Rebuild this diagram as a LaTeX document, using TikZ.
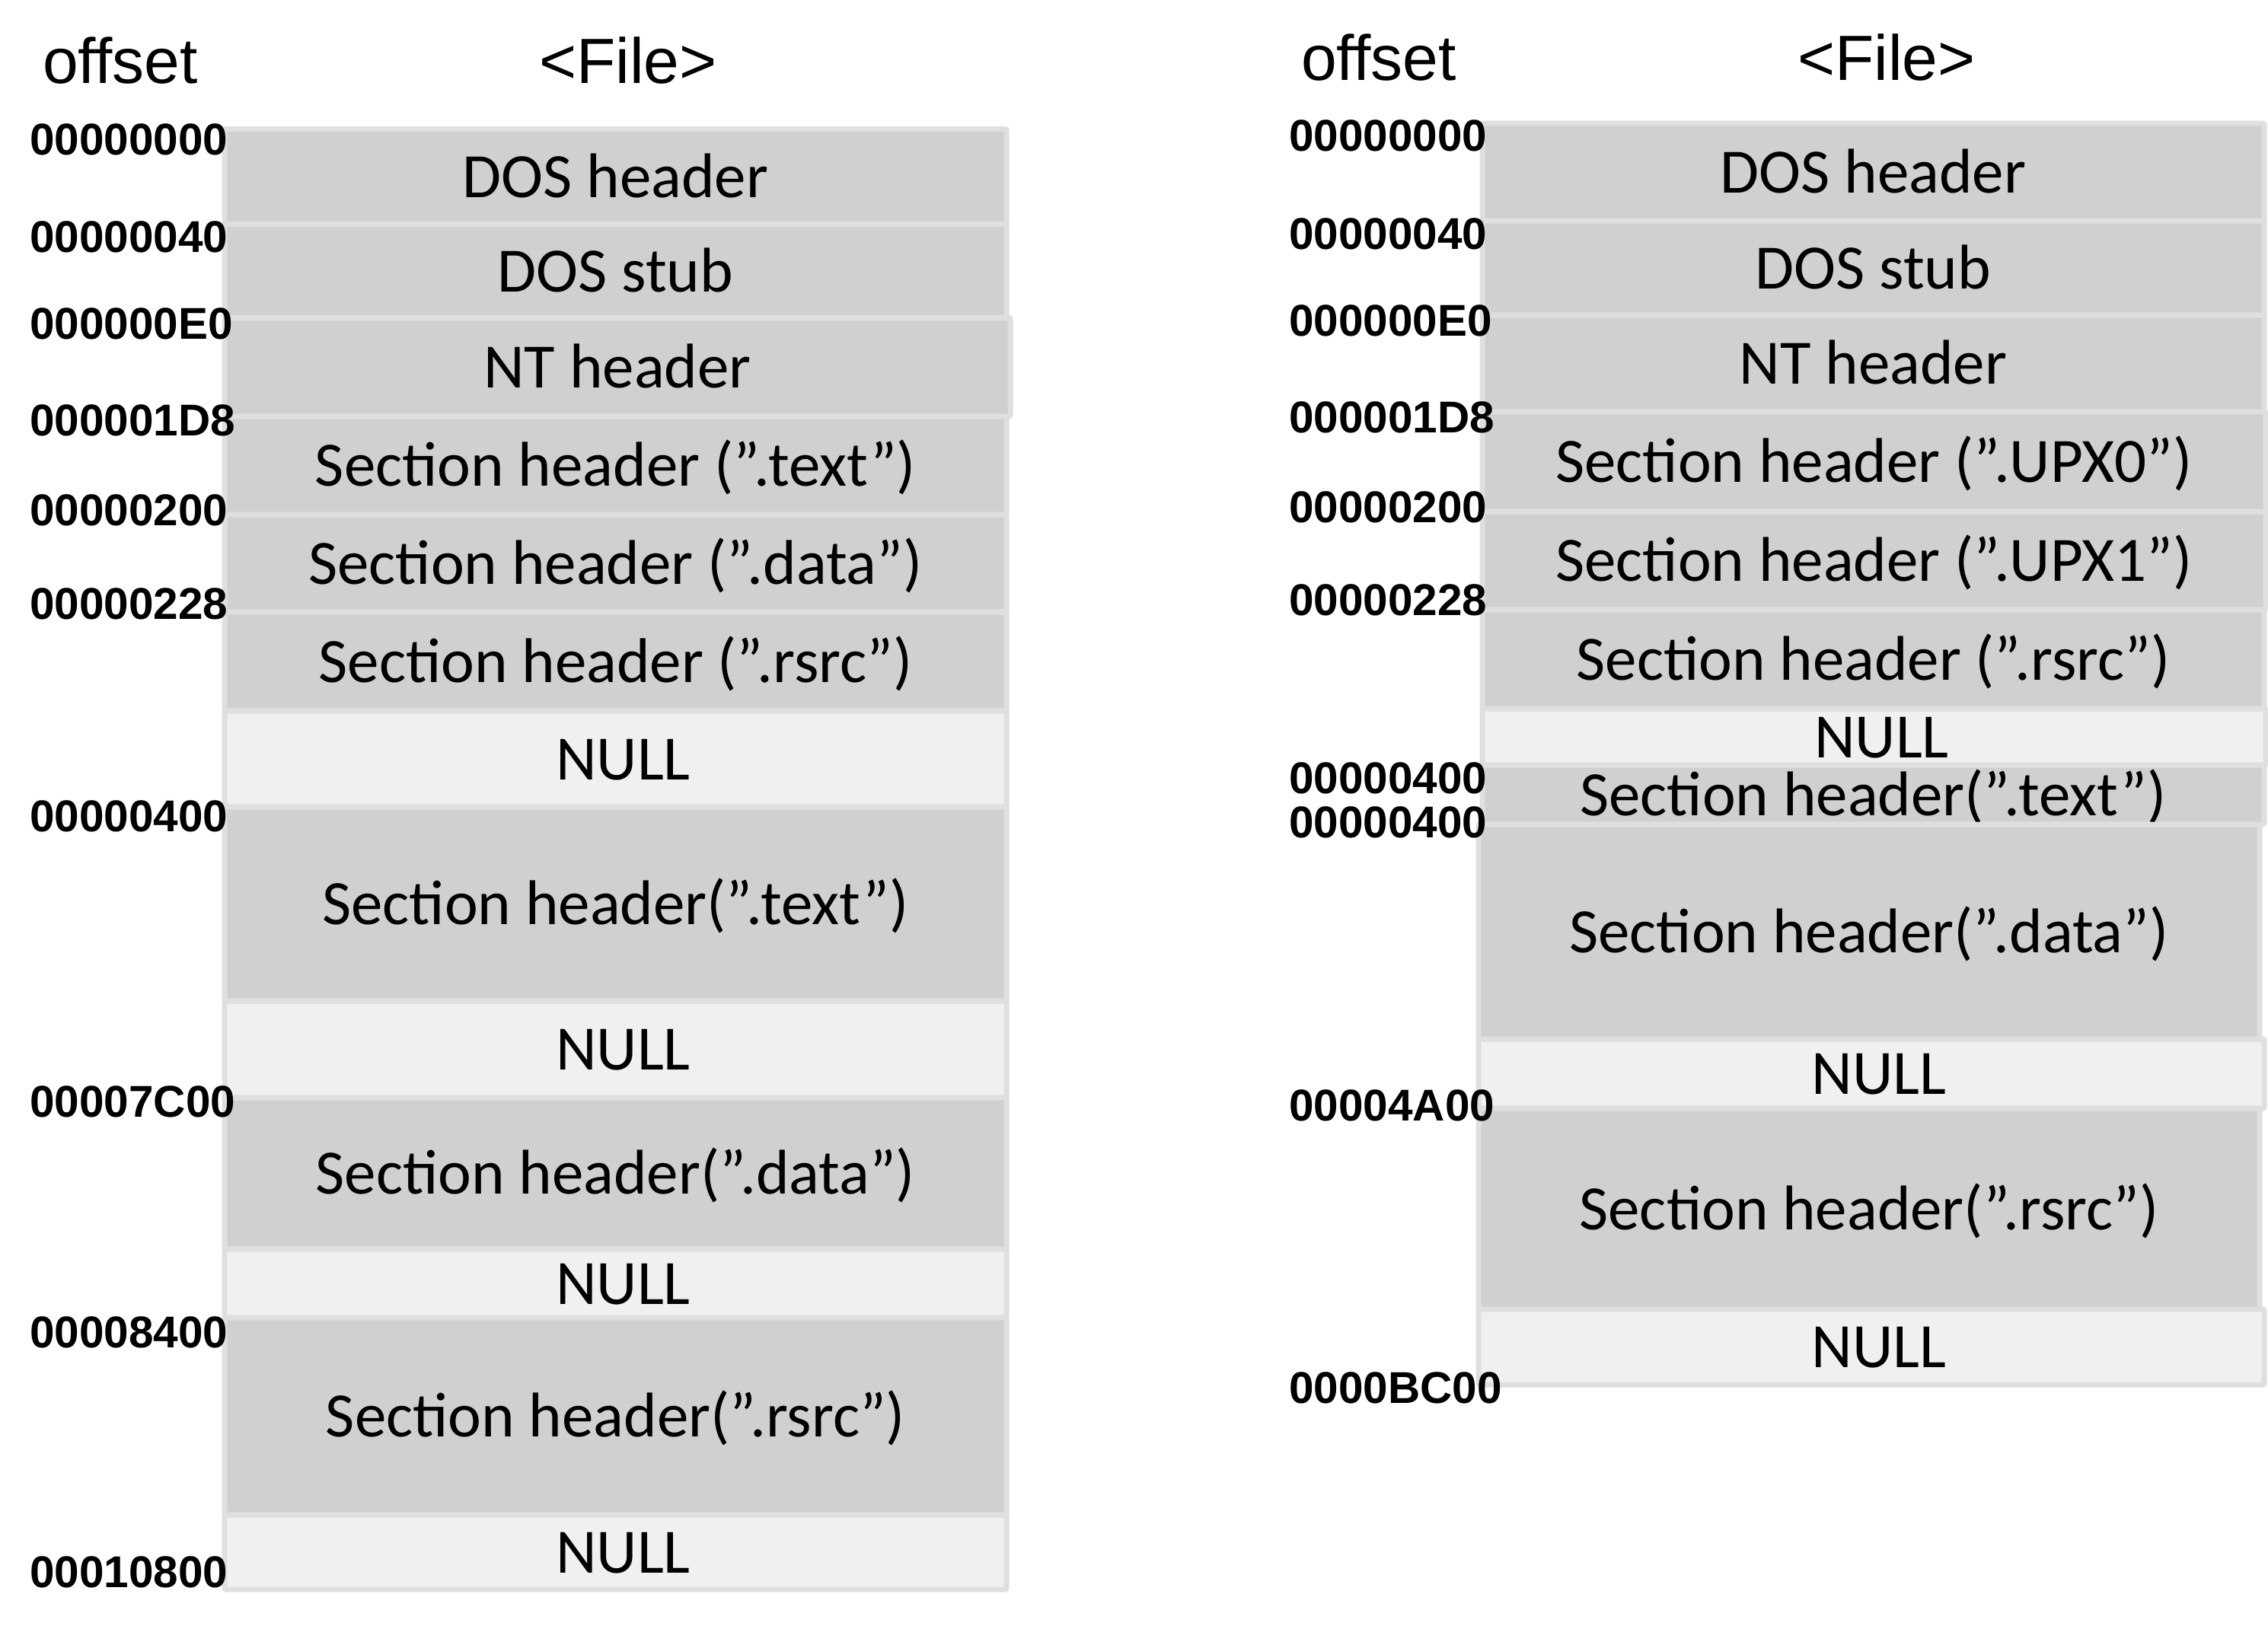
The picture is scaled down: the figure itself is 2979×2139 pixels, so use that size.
\documentclass[tikz,border=0pt]{standalone}
\usepackage{fontspec}
\setmainfont{Carlito}
\newfontfamily\arialf{Liberation Sans}
\definecolor{darkfill}{HTML}{D0D0D0}
\definecolor{lightfill}{HTML}{F0F0F0}
\definecolor{edgegray}{HTML}{DFDFDF}
\tikzset{
  darkrow/.style={fill=darkfill, draw=edgegray, line width=7pt, rounded corners=2pt},
  lightrow/.style={fill=lightfill, draw=edgegray, line width=7pt, rounded corners=2pt},
  rowtext/.style={anchor=base, inner sep=0pt, font=\fontsize{83}{99}\selectfont},
  darktext/.style={rowtext},
  lighttext/.style={rowtext, xshift=10pt},
  offlabel/.style={anchor=base west, inner sep=0pt, font=\arialf\bfseries\fontsize{58.5}{70}\selectfont},
  headtext/.style={anchor=base, inner sep=0pt, font=\arialf\fontsize{84}{100}\selectfont},
}
% #1 name, #2 x1, #3 x2, #4 y1, #5 y2, #6 dark/light, #7 text
\newcommand\rowbox[7]{%
  \path[#6row] (#2,#4) rectangle (#3,#5);
  \node[#6text] (#1) at ({(#2+#3)/2},{(#4+#5)/2+27}) {#7};
}
\begin{document}
\begin{tikzpicture}[x=1pt,y=-1pt]
\useasboundingbox (0,0) rectangle (2979,2139);
\fill[white] (0,0) rectangle (2979,2139);

% ---------- left file ----------
\node[headtext] (offL) at (158,109) {offset};
\node[headtext] (fileL) at (825,109) {<File>};

\rowbox{L1}{295}{1322}{169.5}{294.5}{dark}{DOS header}
\rowbox{L2}{295}{1322}{294.5}{417.5}{dark}{DOS stub}
\rowbox{L3}{295}{1327}{417.5}{547}{dark}{NT header}
\rowbox{L4}{295}{1322}{547}{676}{dark}{Section header (”.text”)}
\rowbox{L5}{295}{1322}{676}{804}{dark}{Section header (”.data”)}
\rowbox{L6}{295}{1322}{804}{934}{dark}{Section header (”.rsrc”)}
\rowbox{L7}{295}{1322}{934}{1060}{light}{NULL}
\rowbox{L8}{295}{1322}{1060}{1315}{dark}{Section header(”.text”)}
\rowbox{L9}{295}{1322}{1315}{1442}{light}{NULL}
\rowbox{L10}{295}{1322}{1442}{1641}{dark}{Section header(”.data”)}
\rowbox{L11}{295}{1322}{1641}{1731}{light}{NULL}
\rowbox{L12}{295}{1322}{1731}{1990}{dark}{Section header(”.rsrc”)}
\rowbox{L13}{295}{1322}{1990}{2088}{light}{NULL}

\node[offlabel] (oL1) at (39,203) {00000000};
\node[offlabel] (oL2) at (39,331) {00000040};
\node[offlabel] (oL3) at (39,445) {000000E0};
\node[offlabel] (oL4) at (39,572) {000001D8};
\node[offlabel] (oL5) at (39,690) {00000200};
\node[offlabel] (oL6) at (39,813) {00000228};
\node[offlabel] (oL7) at (39,1092) {00000400};
\node[offlabel] (oL8) at (39,1467) {00007C00};
\node[offlabel] (oL9) at (39,1770) {00008400};
\node[offlabel] (oL10) at (39,2085) {00010800};

% ---------- right file ----------
\node[headtext] (offR) at (1811,105) {offset};
\node[headtext] (fileR) at (2478,105) {<File>};

\rowbox{R1}{1947}{2974}{162}{290}{dark}{DOS header}
\rowbox{R2}{1947}{2974}{290}{414}{dark}{DOS stub}
\rowbox{R3}{1947}{2974}{414}{541}{dark}{NT header}
\rowbox{R4}{1947}{2976}{541}{672}{dark}{Section header (”.UPX0”)}
\rowbox{R5}{1947}{2976}{672}{801}{dark}{Section header (”.UPX1”)}
\rowbox{R6}{1947}{2974}{801}{931}{dark}{Section header (”.rsrc”)}
\rowbox{R7}{1947}{2976}{931}{1005}{light}{NULL}
\rowbox{R8}{1947}{2974}{1005}{1083}{dark}{Section header(”.text”)}
\rowbox{R9}{1942}{2968}{1083}{1365}{dark}{Section header(”.data”)}
\rowbox{R10}{1942}{2974}{1365}{1456}{light}{NULL}
\rowbox{R11}{1942}{2968}{1456}{1720}{dark}{Section header(”.rsrc”)}
\rowbox{R12}{1942}{2974}{1720}{1819}{light}{NULL}

\node[offlabel] (oR1) at (1693,198) {00000000};
\node[offlabel] (oR2) at (1693,327) {00000040};
\node[offlabel] (oR3) at (1693,441) {000000E0};
\node[offlabel] (oR4) at (1693,568) {000001D8};
\node[offlabel] (oR5) at (1693,686) {00000200};
\node[offlabel] (oR6) at (1693,808) {00000228};
\node[offlabel] (oR7) at (1693,1042) {00000400};
\node[offlabel] (oR8) at (1693,1100) {00000400};
\node[offlabel] (oR9) at (1693,1472) {00004A00};
\node[offlabel] (oR10) at (1693,1843) {0000BC00};
\end{tikzpicture}
\end{document}
